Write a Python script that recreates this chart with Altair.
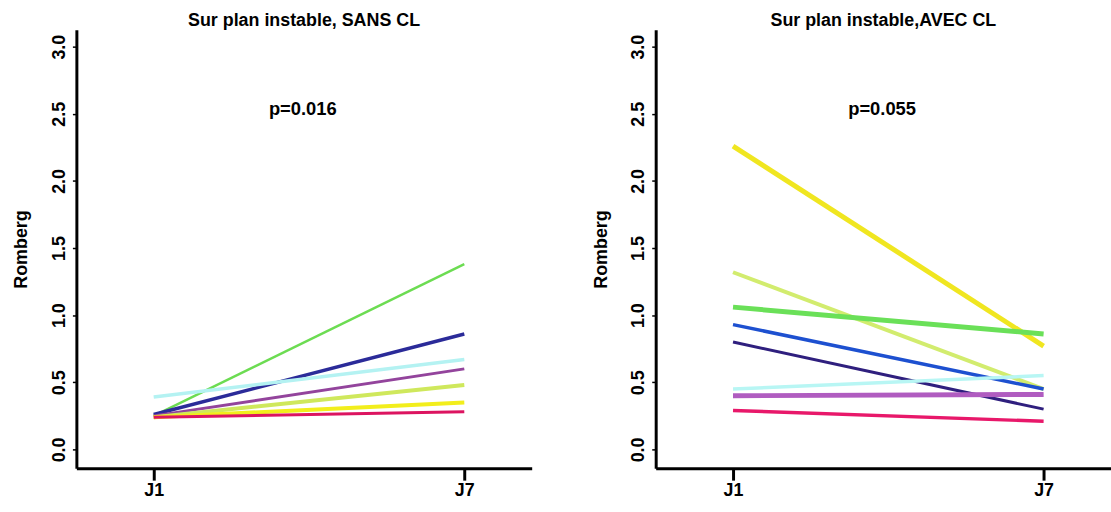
import altair as alt
import pandas as pd

# ---- data ----
times = [0, 1]                      # J1, J7
time_labels = ["J1", "J7"]

# Panel 1: Sur plan instable, SANS CL
sans_ids    = ["s1", "s2", "s3", "s4", "s5", "s6", "s7"]
sans_j1     = [0.25, 0.26, 0.39, 0.25, 0.24, 0.24, 0.24]
sans_j7     = [1.38, 0.86, 0.67, 0.60, 0.48, 0.35, 0.28]
sans_colors = ["#6cdc52", "#2b2b99", "#b4f2f2", "#93449c", "#cfe85c", "#f2ee1c", "#dc1460"]
sans_widths = [2.5, 3.5, 3.5, 3, 4, 4, 3]

# Panel 2: Sur plan instable, AVEC CL
avec_ids    = ["a1", "a2", "a3", "a4", "a5", "a6", "a7", "a8"]
avec_j1     = [2.26, 1.32, 1.06, 0.93, 0.80, 0.45, 0.40, 0.29]
avec_j7     = [0.77, 0.45, 0.86, 0.45, 0.30, 0.55, 0.41, 0.21]
avec_colors = ["#f0e620", "#d2ec6e", "#6ae058", "#1d50d0", "#2f1f7e", "#b8f6f4", "#b05cc0", "#e8186a"]
avec_widths = [5, 4, 5, 3.5, 3, 3.5, 5, 3.5]

titles = ["Sur plan instable, SANS CL", "Sur plan instable,AVEC CL"]
p_texts = ["p=0.016", "p=0.055"]
p_x = [0.48, 0.48]
p_y = [2.535, 2.535]

y_ticks = [0.0, 0.5, 1.0, 1.5, 2.0, 2.5, 3.0]
FONT = "Liberation Sans"


def make_df(ids, j1, j7, colors, widths):
    rows = []
    for i, sid in enumerate(ids):
        for t, v in zip(times, [j1[i], j7[i]]):
            rows.append({"sid": sid, "t": t, "v": v, "col": colors[i], "w": widths[i]})
    return pd.DataFrame(rows)


def panel(df, title, ptxt, px, py, width):
    xscale = alt.Scale(domain=[-0.249, 1.217], nice=False, zero=False)
    yscale = alt.Scale(domain=[-0.14, 3.126], nice=False, zero=False)
    xaxis = alt.Axis(values=times, labelExpr="datum.value == 0 ? 'J1' : 'J7'",
                     title=None, grid=False, domainColor="black", domainWidth=3,
                     tickColor="black", tickWidth=3, tickSize=12,
                     labelFont=FONT, labelFontSize=18, labelFontWeight="bold",
                     labelColor="black", labelPadding=1)
    yaxis = alt.Axis(values=y_ticks, format=".1f", title="Romberg", grid=False,
                     domainColor="black", domainWidth=3, tickColor="black",
                     tickWidth=1.5, tickSize=4, labelAngle=270,
                     labelFont=FONT, labelFontSize=18, labelFontWeight="bold",
                     labelColor="black", labelPadding=4,
                     titleFont=FONT, titleFontSize=18, titleFontWeight="bold",
                     titleColor="black", titlePadding=20)
    lines = alt.Chart(df).mark_line(strokeCap="butt").encode(
        x=alt.X("t:Q", scale=xscale, axis=xaxis),
        y=alt.Y("v:Q", scale=yscale, axis=yaxis),
        detail="sid:N",
        color=alt.Color("col:N", scale=None),
        strokeWidth=alt.StrokeWidth("w:Q", scale=None),
    )
    tdf = pd.DataFrame({"x": [px], "y": [py], "txt": [ptxt]})
    text = alt.Chart(tdf).mark_text(font=FONT, fontSize=18.5, fontWeight="bold",
                                    color="black").encode(
        x=alt.X("x:Q", scale=xscale),
        y=alt.Y("y:Q", scale=yscale),
        text="txt:N",
    )
    return alt.layer(lines, text).properties(
        width=width, height=442,
        title=alt.TitleParams(title, font=FONT, fontSize=18, fontWeight="bold",
                              color="black", offset=0, anchor="middle"),
    )


left = panel(make_df(sans_ids, sans_j1, sans_j7, sans_colors, sans_widths),
             titles[0], p_texts[0], p_x[0], p_y[0], 459)
right = panel(make_df(avec_ids, avec_j1, avec_j7, avec_colors, avec_widths),
              titles[1], p_texts[1], p_x[1], p_y[1], 459)

chart = alt.hconcat(left, right, spacing=61).properties(
    padding={"left": 13, "top": 10, "right": 0, "bottom": 0},
    background="white",
).configure_view(stroke=None)

chart.save("out.html", embed_options={"renderer": "svg", "actions": False})
